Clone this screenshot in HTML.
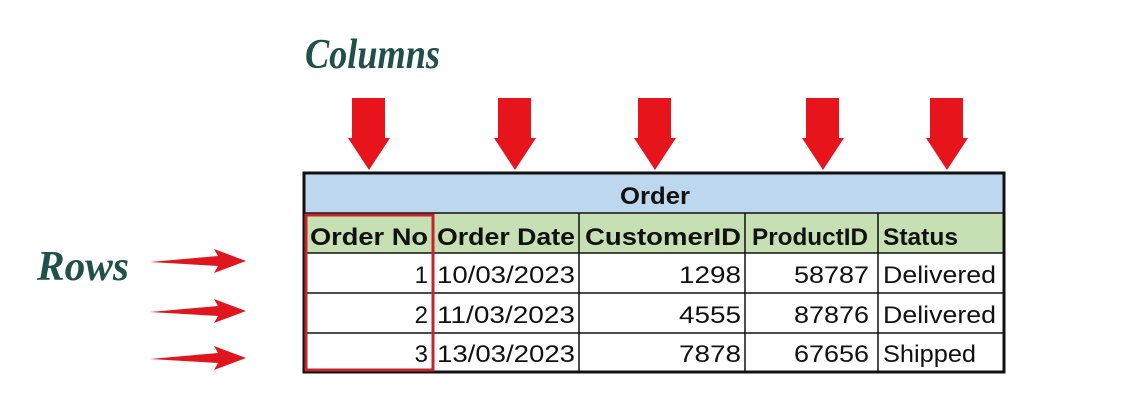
<!DOCTYPE html>
<html><head><meta charset="utf-8"><style>
html,body{margin:0;padding:0;background:#fff;width:1135px;height:410px;overflow:hidden}
svg{display:block}
.t{font-family:"Liberation Sans",sans-serif;font-size:24px;fill:#111}
.b{font-weight:bold}
.s{font-family:"Liberation Serif",serif;font-style:italic;font-weight:bold;fill:#1f5049}
</style></head><body>
<svg width="1135" height="410">
<text class="s" x="305" y="68" font-size="42" textLength="135" lengthAdjust="spacingAndGlyphs">Columns</text>
<text class="s" x="37" y="280" font-size="42" textLength="92" lengthAdjust="spacingAndGlyphs">Rows</text>
<g fill="#e8141b">
<polygon points="352,98 385,98 385,138 390,138 369,170 348,138 352,138"/>
<polygon points="498,98 531,98 531,138 536,138 515,170 494,138 498,138"/>
<polygon points="638,98 671,98 671,138 676,138 655,170 634,138 638,138"/>
<polygon points="806,98 839,98 839,138 844,138 823,170 802,138 806,138"/>
<polygon points="930,98 963,98 963,138 968,138 947,170 926,138 930,138"/>
</g>
<g fill="#e0161e">
<polygon points="150,262 218,256 214,249 246,261 214,273 218,266"/>
<polygon points="150,312 218,306 214,299 246,311 214,323 218,316"/>
<polygon points="150,359 218,353 214,346 246,358 214,370 218,363"/>
</g>
<rect x="304" y="173" width="700" height="40" fill="#bdd7ee"/>
<rect x="304" y="213" width="700" height="40" fill="#c6e0b4"/>
<g stroke="#111" stroke-width="1.5">
<line x1="304" y1="213" x2="1004" y2="213"/>
<line x1="304" y1="253" x2="1004" y2="253"/>
<line x1="304" y1="293" x2="1004" y2="293"/>
<line x1="304" y1="333" x2="1004" y2="333"/>
<line x1="433" y1="213" x2="433" y2="372"/>
<line x1="579" y1="213" x2="579" y2="372"/>
<line x1="745" y1="213" x2="745" y2="372"/>
<line x1="878" y1="213" x2="878" y2="372"/>
</g>
<rect x="304" y="173" width="700" height="199" fill="none" stroke="#111" stroke-width="3"/>
<rect x="306" y="215" width="127" height="155" fill="none" stroke="#c0262c" stroke-width="3"/>
<text class="t b" x="620" y="204" textLength="70" lengthAdjust="spacingAndGlyphs">Order</text>
<g class="t b">
<text x="310" y="245" textLength="118" lengthAdjust="spacingAndGlyphs">Order No</text>
<text x="437" y="245" textLength="138" lengthAdjust="spacingAndGlyphs">Order Date</text>
<text x="585" y="245" textLength="156" lengthAdjust="spacingAndGlyphs">CustomerID</text>
<text x="752" y="245" textLength="116" lengthAdjust="spacingAndGlyphs">ProductID</text>
<text x="883" y="245" textLength="75" lengthAdjust="spacingAndGlyphs">Status</text>
</g>
<g class="t">
<text x="428" y="283" text-anchor="end">1</text>
<text x="437" y="283" textLength="138" lengthAdjust="spacingAndGlyphs">10/03/2023</text>
<text x="679" y="283" textLength="62" lengthAdjust="spacingAndGlyphs">1298</text>
<text x="794" y="283" textLength="75" lengthAdjust="spacingAndGlyphs">58787</text>
<text x="883" y="283" textLength="113" lengthAdjust="spacingAndGlyphs">Delivered</text>
<text x="428" y="323" text-anchor="end">2</text>
<text x="437" y="323" textLength="138" lengthAdjust="spacingAndGlyphs">11/03/2023</text>
<text x="679" y="323" textLength="62" lengthAdjust="spacingAndGlyphs">4555</text>
<text x="794" y="323" textLength="75" lengthAdjust="spacingAndGlyphs">87876</text>
<text x="883" y="323" textLength="113" lengthAdjust="spacingAndGlyphs">Delivered</text>
<text x="428" y="362" text-anchor="end">3</text>
<text x="437" y="362" textLength="138" lengthAdjust="spacingAndGlyphs">13/03/2023</text>
<text x="679" y="362" textLength="62" lengthAdjust="spacingAndGlyphs">7878</text>
<text x="794" y="362" textLength="75" lengthAdjust="spacingAndGlyphs">67656</text>
<text x="883" y="362" textLength="93" lengthAdjust="spacingAndGlyphs">Shipped</text>
</g>
</svg>
</body></html>
